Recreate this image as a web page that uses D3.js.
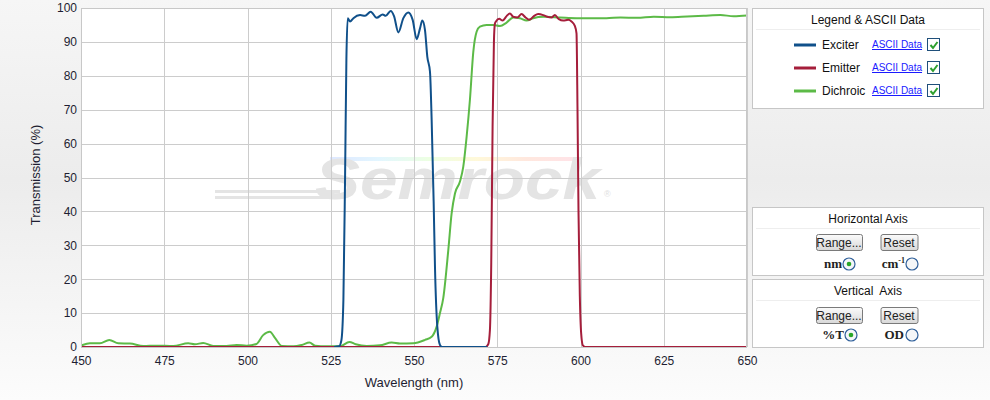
<!DOCTYPE html>
<html>
<head>
<meta charset="utf-8">
<script src="https://cdn.jsdelivr.net/npm/d3@7/dist/d3.min.js"></script>
<style>
  body { margin: 0; padding: 0; }
  svg { display: block; font-family: "Liberation Sans", Arial, sans-serif; }
</style>
</head>
<body>
<svg id="chart" width="990" height="400"></svg>
<script>
// wavelength (nm), transmission (%)
var exciterData = [
  [526, 0], [527.5, 0.2], [528.2, 2], [528.8, 14], [529.3, 50], [529.7, 85], [530.1, 97],
  [530.8, 96], [531.8, 97], [533.8, 97.9], [535.3, 97.7], [537, 98.9], [538.8, 97.1],
  [540.6, 98.1], [541.5, 97.7], [543, 99.1], [544, 97.6], [545.3, 92.8], [546.8, 97],
  [548.3, 98.7], [549.6, 96.5], [550.8, 90.8], [551.8, 94], [552.5, 96.3], [553.3, 93.5],
  [554, 85.6], [554.8, 81.2], [555.3, 67], [555.9, 43], [556.3, 23.6], [557, 6],
  [557.8, 0.6], [558.5, 0], [572, 0]
];
var emitterData = [
  [450, 0], [571.5, 0], [572.3, 0.8], [572.8, 5], [573.2, 25], [573.6, 65], [574, 90],
  [574.3, 95.4], [574.6, 96], [575.6, 96.8], [576.6, 96.3], [577.8, 97.6], [578.8, 98.4],
  [579.8, 97.4], [581, 97.2], [582.3, 98.2], [583.5, 97.2], [584.6, 96.5], [586, 97.6],
  [587.3, 98.2], [588.8, 97.9], [590, 97.4], [591.3, 97.2], [592.3, 97.9], [593.5, 96.7],
  [594.8, 96.3], [596.3, 96.5], [597.3, 96], [598.3, 94.7], [598.8, 92.5], [599.1, 70],
  [599.4, 40], [599.8, 15], [600.2, 4], [600.7, 0.5], [601.5, 0], [650, 0]
];
var dichroicData = [
  [450, 0.4], [450.5, 0.6], [452.7, 1.1], [455.7, 1.1], [458.5, 2.1], [461.2, 1.1],
  [464.7, 1.0], [468.7, 0.3], [472.7, 0.4], [477.7, 0.3], [482.2, 1.1], [484.2, 0.8],
  [486.7, 1.2], [489.7, 0.3], [493.7, 0.3], [496.7, 0.6], [499.7, 0.4], [502.7, 0.9],
  [504.7, 3.5], [506.7, 4.5], [508.3, 2.6], [510.3, 0.3], [513.8, 0.2], [516.3, 0.6],
  [518.6, 1.3], [520.3, 0.4], [523.8, 0.2], [527.8, 0.2], [530.6, 1.5], [532.5, 0.8],
  [535.8, 0.3], [539.8, 0.5], [543.3, 1.3], [545.8, 1.0], [549.8, 1.1], [553.3, 2.1],
  [555.3, 3.0], [556.8, 6], [557.8, 10], [558.8, 14.5], [560.3, 28.6], [561.3, 39.4],
  [562.3, 45.3], [563.8, 48.8], [564.8, 53.2], [565.8, 62], [566.8, 73], [567.8, 87],
  [568.8, 93], [569.8, 94.5], [571.8, 95], [573.8, 95], [575.8, 94.7], [577.8, 95.7],
  [579.8, 97.2], [581.8, 97], [583.8, 96.3], [585.8, 97], [588.8, 97.4], [593.8, 97.2],
  [598.8, 97], [603.8, 97], [607.8, 97], [612, 97.2], [617, 97.1], [622, 97.4],
  [627, 97.3], [632, 97.5], [637, 97.7], [642, 97.9], [646, 97.6], [650, 97.8]
];
var seriesNames = ["Exciter", "Emitter", "Dichroic"];
var seriesColors = ["#10508a", "#a51e3b", "#5cba47"];
var xTicks = [450, 475, 500, 525, 550, 575, 600, 625, 650];
var yTicks = [0, 10, 20, 30, 40, 50, 60, 70, 80, 90, 100];

var svg = d3.select("#chart");
var plot = {left: 81, top: 8, right: 747, bottom: 347};

// background
var defs = svg.append("defs");
var bg = defs.append("linearGradient").attr("id", "bg").attr("x1", 0).attr("y1", 0).attr("x2", 0).attr("y2", 1);
bg.append("stop").attr("offset", "0%").attr("stop-color", "#f6f6f6");
bg.append("stop").attr("offset", "45%").attr("stop-color", "#ececec");
bg.append("stop").attr("offset", "100%").attr("stop-color", "#fcfcfc");
var btn = defs.append("linearGradient").attr("id", "btn").attr("x1", 0).attr("y1", 0).attr("x2", 0).attr("y2", 1);
btn.append("stop").attr("offset", "0%").attr("stop-color", "#fbfbfb");
btn.append("stop").attr("offset", "100%").attr("stop-color", "#d8d8d8");
var rainbow = defs.append("linearGradient").attr("id", "rainbow");
["#c8d8ff", "#d0f0ff", "#e0ffd0", "#fff4c0", "#ffd8c8", "#ffd0d8"].forEach(function (c, i) {
  rainbow.append("stop").attr("offset", (i * 20) + "%").attr("stop-color", c);
});
defs.append("clipPath").attr("id", "clip").append("rect")
  .attr("x", plot.left).attr("y", plot.top - 2)
  .attr("width", plot.right - plot.left).attr("height", plot.bottom - plot.top + 3);

svg.append("rect").attr("width", 990).attr("height", 400).attr("fill", "url(#bg)");
svg.append("rect")
  .attr("x", plot.left).attr("y", plot.top)
  .attr("width", plot.right - plot.left).attr("height", plot.bottom - plot.top)
  .attr("fill", "#fff");

var x = d3.scaleLinear().domain([450, 650]).range([plot.left, plot.right]);
var y = d3.scaleLinear().domain([0, 100]).range([plot.bottom, plot.top]);

// watermark
var wm = svg.append("g").attr("class", "watermark");
wm.append("rect").attr("x", 330).attr("y", 157).attr("width", 245).attr("height", 4)
  .attr("fill", "url(#rainbow)").attr("opacity", 0.6);
wm.append("rect").attr("x", 215).attr("y", 190).attr("width", 125).attr("height", 3).attr("fill", "#e4e4e4");
wm.append("rect").attr("x", 215).attr("y", 196).attr("width", 120).attr("height", 3).attr("fill", "#e4e4e4");
wm.append("text").attr("x", 315).attr("y", 199)
  .attr("font-size", 57).attr("font-weight", "bold").attr("font-style", "italic")
  .attr("textLength", 285).attr("lengthAdjust", "spacingAndGlyphs")
  .attr("fill", "#e4e4e4").text("Semrock");
wm.append("text").attr("x", 604).attr("y", 197).attr("font-size", 9)
  .attr("fill", "#e0e0e0").text("®");

// grid
var grid = svg.append("g").attr("class", "grid");
grid.selectAll(".vx").data(xTicks).enter().append("line")
  .attr("x1", function (d) { return Math.round(x(d)) + 0.5; })
  .attr("x2", function (d) { return Math.round(x(d)) + 0.5; })
  .attr("y1", plot.top).attr("y2", plot.bottom)
  .attr("stroke", "#cccccc");
grid.selectAll(".hy").data(yTicks).enter().append("line")
  .attr("y1", function (d) { return Math.round(y(d)) + 0.5; })
  .attr("y2", function (d) { return Math.round(y(d)) + 0.5; })
  .attr("x1", plot.left).attr("x2", plot.right)
  .attr("stroke", "#cccccc");

// axes
var xAxis = svg.append("g").attr("transform", "translate(0," + plot.bottom + ")")
  .call(d3.axisBottom(x).tickValues(xTicks).tickSize(0).tickPadding(9));
var yAxis = svg.append("g").attr("transform", "translate(" + plot.left + ",0)")
  .call(d3.axisLeft(y).tickValues(yTicks).tickSize(0).tickPadding(4));
[xAxis, yAxis].forEach(function (a) {
  a.select(".domain").remove();
  a.selectAll("text").attr("font-size", 12).attr("fill", "#1e1e32")
    .attr("font-family", "Liberation Sans, Arial, sans-serif");
});

svg.append("text").attr("x", 414).attr("y", 387).attr("text-anchor", "middle")
  .attr("font-size", 13).attr("fill", "#1e1e32").text("Wavelength (nm)");
svg.append("text").attr("transform", "translate(40,175) rotate(-90)").attr("text-anchor", "middle")
  .attr("font-size", 13).attr("fill", "#1e1e32").text("Transmission (%)");

// curves
var line = d3.line()
  .x(function (d) { return x(d[0]); })
  .y(function (d) { return y(d[1]); })
  .curve(d3.curveMonotoneX);
var curves = svg.append("g").attr("clip-path", "url(#clip)");
[[dichroicData, 2], [emitterData, 1], [exciterData, 0]].forEach(function (s) {
  curves.append("path")
    .attr("d", line(s[0]))
    .attr("fill", "none")
    .attr("stroke", seriesColors[s[1]])
    .attr("stroke-width", 2)
    .attr("stroke-linejoin", "round");
});

// side panels
function panel(top, h, title) {
  var g = svg.append("g").attr("transform", "translate(752," + top + ")");
  g.append("rect").attr("x", 0.5).attr("y", 0.5).attr("width", 231).attr("height", h)
    .attr("fill", "#fff").attr("stroke", "#c6c6c6");
  g.append("line").attr("x1", 4).attr("x2", 228).attr("y1", 21.5).attr("y2", 21.5)
    .attr("stroke", "#eeeeee");
  g.append("text").attr("x", 116).attr("y", 16).attr("text-anchor", "middle")
    .attr("font-size", 12).attr("fill", "#111").attr("xml:space", "preserve").text(title);
  return g;
}

var legend = panel(8, 100, "Legend & ASCII Data");
seriesNames.forEach(function (name, i) {
  var ry = 37 + i * 23;
  legend.append("line").attr("x1", 42).attr("x2", 64).attr("y1", ry).attr("y2", ry)
    .attr("stroke", seriesColors[i]).attr("stroke-width", 3);
  legend.append("text").attr("x", 70).attr("y", ry + 4).attr("font-size", 12)
    .attr("fill", "#111").text(name);
  legend.append("text").attr("x", 120).attr("y", ry + 3).attr("font-size", 10)
    .attr("fill", "#1a1aff").attr("text-decoration", "underline").text("ASCII Data");
  legend.append("rect").attr("x", 175.5).attr("y", ry - 6.5).attr("width", 12).attr("height", 12)
    .attr("fill", "#fff").attr("stroke", "#1f4f7a");
  legend.append("path").attr("d", "M178.5," + (ry) + " l2.5,3 l4.5,-6")
    .attr("fill", "none").attr("stroke", "#2ea02e").attr("stroke-width", 2);
});

function button(g, cx, cy, w, label) {
  g.append("rect").attr("x", cx - w / 2 + 0.5).attr("y", cy - 7.5).attr("width", w).attr("height", 16)
    .attr("rx", 2).attr("fill", "url(#btn)").attr("stroke", "#7a7a7a");
  g.append("text").attr("x", cx).attr("y", cy + 4.5).attr("text-anchor", "middle")
    .attr("font-size", 12).attr("fill", "#222").text(label);
}
function radio(g, cx, cy, on) {
  g.append("circle").attr("cx", cx).attr("cy", cy).attr("r", 6)
    .attr("fill", "#f4f6f8").attr("stroke", "#2f5f9a").attr("stroke-width", 1.2);
  if (on) g.append("circle").attr("cx", cx).attr("cy", cy).attr("r", 2.3).attr("fill", "#28a628");
}

var hAxis = panel(207, 68, "Horizontal Axis");
button(hAxis, 87, 35, 46, "Range...");
button(hAxis, 147, 35, 37, "Reset");
hAxis.append("text").attr("x", 90).attr("y", 61).attr("text-anchor", "end")
  .attr("font-family", "Liberation Serif, serif").attr("font-weight", "bold").attr("font-size", 13)
  .attr("fill", "#222").text("nm");
radio(hAxis, 97, 57, true);
var cm = hAxis.append("text").attr("x", 153).attr("y", 61).attr("text-anchor", "end")
  .attr("font-family", "Liberation Serif, serif").attr("font-weight", "bold").attr("font-size", 13)
  .attr("fill", "#222");
cm.append("tspan").text("cm");
cm.append("tspan").attr("dy", -5).attr("font-size", 8).text("-1");
radio(hAxis, 160, 57, false);

var vAxis = panel(279, 68, "Vertical  Axis");
button(vAxis, 87, 36, 46, "Range...");
button(vAxis, 147, 36, 37, "Reset");
vAxis.append("text").attr("x", 92).attr("y", 60).attr("text-anchor", "end")
  .attr("font-family", "Liberation Serif, serif").attr("font-weight", "bold").attr("font-size", 13)
  .attr("fill", "#222").text("%T");
radio(vAxis, 99, 56, true);
vAxis.append("text").attr("x", 152).attr("y", 60).attr("text-anchor", "end")
  .attr("font-family", "Liberation Serif, serif").attr("font-weight", "bold").attr("font-size", 13)
  .attr("fill", "#222").text("OD");
radio(vAxis, 160, 56, false);

// plot frame
svg.append("rect")
  .attr("x", plot.left + 0.5).attr("y", plot.top + 0.5)
  .attr("width", plot.right - plot.left - 1).attr("height", plot.bottom - plot.top)
  .attr("fill", "none").attr("stroke", "#c8c8c8");
</script>
</body>
</html>
